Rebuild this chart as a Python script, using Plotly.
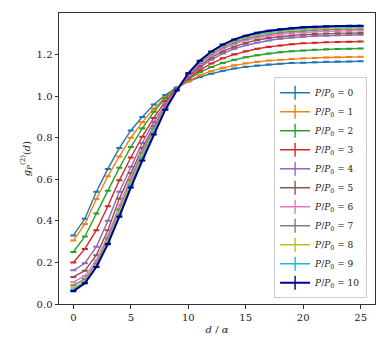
import plotly.graph_objects as go

# ── Data ────────────────────────────────────────────────────────
d_vals = list(range(0, 26))
powers = [0, 1, 2, 3, 4, 5, 6, 7, 8, 9, 10]

g_p0  = [0.33, 0.41, 0.54, 0.65, 0.75, 0.835, 0.90, 0.96, 1.005, 1.042, 1.07, 1.092, 1.108, 1.122, 1.133, 1.141, 1.147, 1.152, 1.156, 1.159, 1.161, 1.163, 1.165, 1.166, 1.167, 1.168]
g_p1  = [0.305, 0.385, 0.505, 0.615, 0.71, 0.80, 0.875, 0.94, 0.995, 1.038, 1.072, 1.10, 1.12, 1.136, 1.148, 1.158, 1.165, 1.171, 1.175, 1.179, 1.182, 1.184, 1.186, 1.187, 1.188, 1.189]
g_p2  = [0.25, 0.325, 0.435, 0.545, 0.655, 0.755, 0.845, 0.925, 0.99, 1.038, 1.08, 1.115, 1.14, 1.16, 1.175, 1.187, 1.197, 1.205, 1.211, 1.216, 1.22, 1.223, 1.225, 1.227, 1.228, 1.229]
g_p3  = [0.20, 0.265, 0.355, 0.47, 0.595, 0.705, 0.805, 0.895, 0.975, 1.035, 1.085, 1.125, 1.157, 1.182, 1.201, 1.216, 1.228, 1.237, 1.244, 1.25, 1.254, 1.257, 1.259, 1.261, 1.262, 1.263]
g_p4  = [0.162, 0.196, 0.275, 0.40, 0.54, 0.66, 0.775, 0.875, 0.96, 1.03, 1.09, 1.137, 1.175, 1.205, 1.228, 1.245, 1.258, 1.268, 1.276, 1.282, 1.286, 1.289, 1.291, 1.293, 1.294, 1.295]
g_p5  = [0.13, 0.16, 0.235, 0.355, 0.507, 0.63, 0.75, 0.855, 0.95, 1.03, 1.095, 1.145, 1.185, 1.215, 1.238, 1.256, 1.27, 1.28, 1.287, 1.292, 1.296, 1.299, 1.301, 1.302, 1.303, 1.304]
g_p6  = [0.105, 0.135, 0.21, 0.33, 0.475, 0.61, 0.735, 0.845, 0.945, 1.03, 1.10, 1.155, 1.195, 1.226, 1.25, 1.268, 1.281, 1.291, 1.298, 1.303, 1.307, 1.31, 1.312, 1.313, 1.314, 1.315]
g_p7  = [0.09, 0.12, 0.195, 0.315, 0.455, 0.595, 0.725, 0.84, 0.94, 1.03, 1.105, 1.16, 1.203, 1.235, 1.258, 1.276, 1.289, 1.299, 1.306, 1.311, 1.315, 1.318, 1.32, 1.321, 1.322, 1.323]
g_p8  = [0.078, 0.11, 0.185, 0.30, 0.44, 0.585, 0.715, 0.832, 0.94, 1.03, 1.107, 1.165, 1.208, 1.241, 1.265, 1.283, 1.296, 1.306, 1.313, 1.318, 1.322, 1.325, 1.327, 1.328, 1.329, 1.33]
g_p9  = [0.068, 0.104, 0.18, 0.293, 0.428, 0.572, 0.705, 0.826, 0.938, 1.03, 1.109, 1.168, 1.212, 1.245, 1.269, 1.287, 1.30, 1.31, 1.317, 1.323, 1.327, 1.33, 1.332, 1.333, 1.334, 1.335]
g_p10 = [0.062, 0.10, 0.178, 0.288, 0.42, 0.56, 0.69, 0.815, 0.935, 1.027, 1.11, 1.17, 1.215, 1.248, 1.273, 1.291, 1.305, 1.315, 1.322, 1.327, 1.331, 1.334, 1.336, 1.337, 1.338, 1.339]

g_err = 0.002

series = [g_p0, g_p1, g_p2, g_p3, g_p4, g_p5, g_p6, g_p7, g_p8, g_p9, g_p10]
colors = ['#1f77b4', '#ff7f0e', '#2ca02c', '#d62728', '#9467bd', '#8c564b',
          '#e377c2', '#7f7f7f', '#bcbd22', '#17becf', '#00008b']

SERIF = "DejaVu Serif"

fig = go.Figure()

for p, g, c in zip(powers, series, colors):
    w = 2.0 if p == 10 else 1.4
    fig.add_trace(go.Scatter(
        x=d_vals, y=g, mode='lines',
        line=dict(color=c, width=w),
        error_y=dict(type='constant', value=g_err, color=c, thickness=1.2, width=3),
        showlegend=False
    ))

# legend-only entries (line + vertical bar like matplotlib errorbar handles)
for p, c in zip(powers, colors):
    w = 2.0 if p == 10 else 1.4
    fig.add_trace(go.Scatter(
        x=[None], y=[None], mode='lines+markers',
        line=dict(color=c, width=w),
        marker=dict(symbol='line-ns-open', size=10, color=c, line=dict(color=c, width=1.4)),
        name=f'<i>P</i>/<i>P</i><sub>0</sub> = {p}'
    ))

axis_common = dict(
    showline=True, linecolor='#333', linewidth=1, mirror=True,
    ticks='outside', ticklen=3.5, tickcolor='#333', tickwidth=1,
    showgrid=False, zeroline=False, automargin=False,
    tickfont=dict(family=SERIF, size=10, color='#222'),
)

fig.update_xaxes(range=[-1.25, 26.25], tickvals=[0, 5, 10, 15, 20, 25],
                 title=dict(text='<i>d</i> / <i>α</i>', font=dict(family=SERIF, size=10, color='#222'),
                            standoff=4),
                 **axis_common)
fig.update_yaxes(range=[0, 1.40], tickvals=[0, 0.2, 0.4, 0.6, 0.8, 1.0, 1.2], tickformat='.1f',
                 title=dict(text='<i>g</i><sub><i>P</i></sub><sup>(2)</sup>(<i>d</i>)',
                            font=dict(family=SERIF, size=10, color='#222'), standoff=4),
                 **axis_common)

# page body has an 8px margin, so the figure is sized/offset to compensate
fig.update_layout(
    width=376, height=346,
    margin=dict(l=51, r=9, t=5, b=50),
    plot_bgcolor='white', paper_bgcolor='white',
    legend=dict(
        x=0.975, y=0.02, xanchor='right', yanchor='bottom',
        bgcolor='rgba(255,255,255,0.8)', bordercolor='#ccc', borderwidth=1,
        font=dict(family=SERIF, size=9, color='#222'),
        itemwidth=30, tracegroupgap=0,
    ),
)

fig.write_html("out.html")
